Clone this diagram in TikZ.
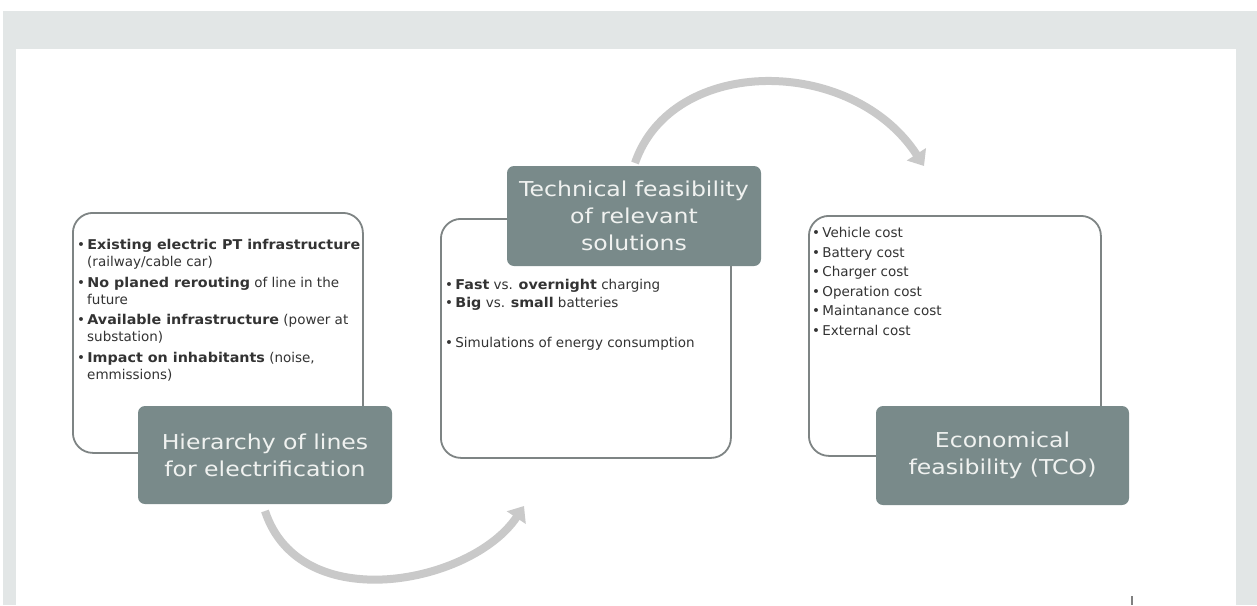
\documentclass[tikz,border=0pt]{standalone}
\usepackage{fontspec}
\setmainfont{DejaVu Sans}[BoldFeatures={FakeStretch=1.06}]
\newfontfamily\titlefont{DejaVu Sans}[FakeStretch=1.15]
\usetikzlibrary{arrows.meta}
\definecolor{bandgray}{HTML}{E2E6E6}
\definecolor{darkbox}{HTML}{798A8A}
\definecolor{boxline}{HTML}{7E8484}
\definecolor{arrowgray}{HTML}{C9C9C9}
\definecolor{bodytext}{HTML}{333333}
\definecolor{titletext}{HTML}{F0F2F0}
\tikzset{
  outlinebox/.style={draw=boxline, line width=1.8pt, rounded corners=20pt, fill=white, anchor=north west, inner sep=0pt},
  titlebox/.style={fill=darkbox, rounded corners=7pt, text=titletext, align=center, inner sep=0pt,
    font=\titlefont\fontsize{20.5}{27}\selectfont},
  bullettext/.style={anchor=north west, inner sep=0pt, align=left, text=bodytext,
    font=\fontsize{13.5}{17}\selectfont},
  flowarrow/.style={draw=arrowgray, line width=8pt, -{Triangle[width=22pt,length=14pt]}},
}
\begin{document}
\begin{tikzpicture}[x=1pt,y=-1pt]
\useasboundingbox (0,0) rectangle (1257,605);
% background frame
\fill[bandgray] (3,11) rectangle (1257,605);
\fill[white] (16,49) rectangle (1236,605);
% outline boxes
\node[outlinebox, minimum width=290pt, minimum height=240pt] (lbox) at (72,212) {};
\node[outlinebox, minimum width=290pt, minimum height=239pt] (mbox) at (440,218) {};
\node[outlinebox, minimum width=292pt, minimum height=240pt] (rbox) at (808,215) {};
% bullet texts
\node[bullettext] (ltext) at (77,239.5) {%
\textbullet\,\textbf{Existing electric PT infrastructure}\\
\hspace*{10pt}(railway/cable car)\\[3.5pt]
\textbullet\,\textbf{No planed rerouting} of line in the\\
\hspace*{10pt}future\\[3.5pt]
\textbullet\,\textbf{Available infrastructure} (power at\\
\hspace*{10pt}substation)\\[3.5pt]
\textbullet\,\textbf{Impact on inhabitants} (noise,\\
\hspace*{10pt}emmissions)};
\node[bullettext] (mtext) at (445,279) {%
\textbullet\,\textbf{Fast} vs. \textbf{overnight} charging\\[1pt]
\textbullet\,\textbf{Big} vs. \textbf{small} batteries\\[23pt]
\textbullet\,Simulations of energy consumption};
\node[bullettext, font=\fontsize{13.5}{19.6}\selectfont] (rtext) at (812,227) {%
\textbullet\,Vehicle cost\\
\textbullet\,Battery cost\\
\textbullet\,Charger cost\\
\textbullet\,Operation cost\\
\textbullet\,Maintanance cost\\
\textbullet\,External cost};
% title boxes
\node[titlebox, minimum width=254pt, minimum height=98pt] (ltitle) at (265,455) {Hierarchy of lines\\for electrification};
\node[titlebox, minimum width=254pt, minimum height=100pt] (mtitle) at (634,216) {Technical feasibility\\of relevant\\solutions};
\node[titlebox, minimum width=253pt, minimum height=99pt] (rtitle) at (1002.5,455.5) {Economical\\feasibility (TCO)};
% arrows
\coordinate (a1s) at (265,511);
\coordinate (a1e) at (524,506);
\coordinate (a2s) at (635,163);
\coordinate (a2e) at (924,166);
\draw[flowarrow] (a1s) .. controls (300,618) and (472,584) .. (a1e);
\draw[flowarrow] (a2s) .. controls (672,55) and (852,55) .. (a2e);
% small tick bottom right
\coordinate (tk1) at (1132,596);
\coordinate (tk2) at (1132,605);
\draw[gray, line width=1.2pt] (tk1) -- (tk2);
\end{tikzpicture}
\end{document}
